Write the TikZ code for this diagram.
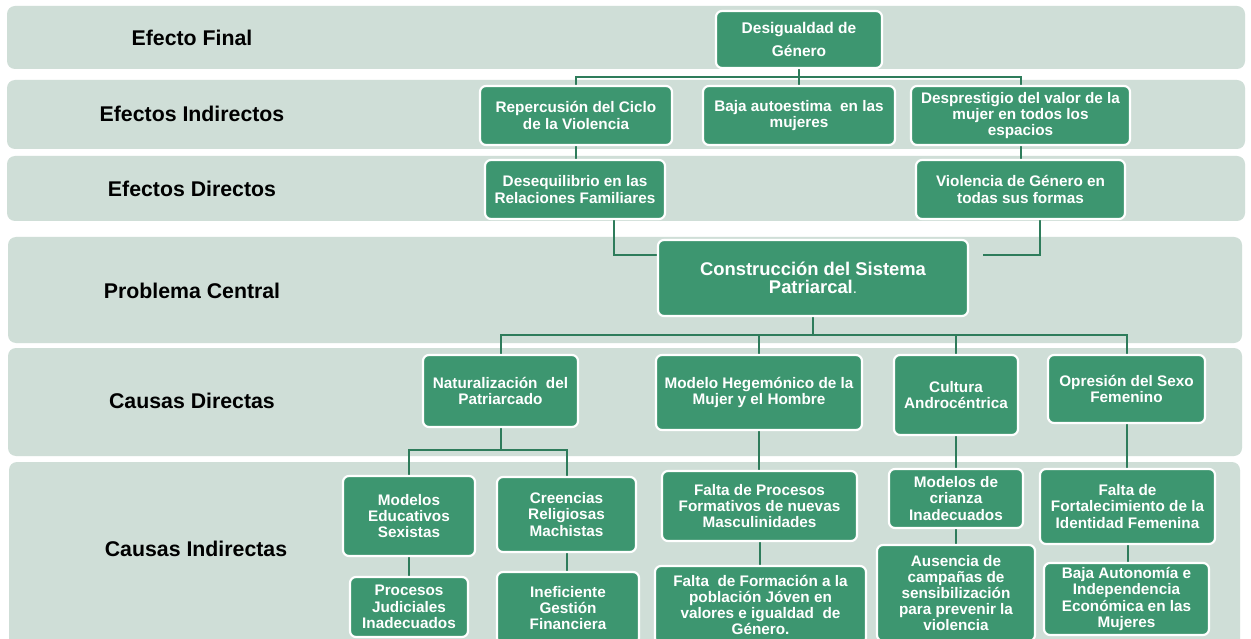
\documentclass[tikz,border=0pt]{standalone}
\usepackage{fontspec}
\setmainfont{Liberation Sans}
\usetikzlibrary{calc}
\definecolor{bandc}{HTML}{CFDED7}
\definecolor{boxc}{HTML}{3D9670}
\definecolor{linec}{HTML}{2E7C5B}
\pgfdeclarelayer{bands}
\pgfdeclarelayer{background}
\pgfsetlayers{bands,background,main}
\tikzset{
  band/.style={fill=bandc, draw=none, rounded corners=8pt},
  bandlabel/.style={font=\fontsize{21.3}{24}\selectfont\bfseries, text=black, anchor=center},
  gbox/.style={fill=boxc, draw=white, line width=2.2pt, rounded corners=6pt, text=white,
    align=center, font=\fontsize{15.3}{16.2}\selectfont\bfseries, inner sep=2pt},
  conn/.style={draw=linec, line width=2pt}
}
\begin{document}
\begin{tikzpicture}[x=1pt,y=-1pt]
\useasboundingbox (0,0) rectangle (1251,639);
\clip (0,0) rectangle (1251,639);
% bands
\begin{pgfonlayer}{bands}
\fill[white] (0,0) rectangle (1251,639);
\path[band] (7,6) rectangle (1245,69);
\path[band] (7,80) rectangle (1245,149);
\path[band] (7,156) rectangle (1245,221);
\path[band] (8,237) rectangle (1242,343);
\path[band] (8,348) rectangle (1242,456);
\path[band] (9,462) rectangle (1240,660);
\end{pgfonlayer}
\node[bandlabel] (l1) at (192,38) {Efecto Final};
\node[bandlabel] (l2) at (192,114) {Efectos Indirectos};
\node[bandlabel] (l3) at (192,189) {Efectos Directos};
\node[bandlabel] (l4) at (192,291) {Problema Central};
\node[bandlabel] (l5) at (192,401) {Causas Directas};
\node[bandlabel] (l6) at (196,549) {Causas Indirectas};
% nodes
\node[gbox, minimum width=166pt, minimum height=57pt, font=\fontsize{15.5}{23}\selectfont\bfseries] (des) at (799,39.5) {Desigualdad de\\Género};
\node[gbox, minimum width=192pt, minimum height=59pt] (rep) at (576,115.5) {Repercusión del Ciclo\\de la Violencia};
\node[gbox, minimum width=192pt, minimum height=59pt] (baja) at (799,115.5) {Baja autoestima\ \ en las\\mujeres};
\node[gbox, minimum width=219pt, minimum height=59pt] (despr) at (1020.5,115.5) {Desprestigio del valor de la\\mujer en todos los\\espacios};
\node[gbox, minimum width=180pt, minimum height=59pt] (deseq) at (575,189.5) {Desequilibrio en las\\Relaciones Familiares};
\node[gbox, minimum width=209pt, minimum height=59pt] (viol) at (1020.5,189.5) {Violencia de Género en\\todas sus formas};
\node[gbox, minimum width=310pt, minimum height=76pt, font=\fontsize{18.4}{18.5}\selectfont\bfseries] (cons) at (813,278) {Construcción del Sistema\\Patriarcal{\normalfont\fontsize{15}{15}\selectfont .}};
\node[gbox, minimum width=155pt, minimum height=72pt] (nat) at (500.5,391) {Naturalización\ \ del\\Patriarcado};
\node[gbox, minimum width=206pt, minimum height=75pt] (mod) at (759,392.5) {Modelo Hegemónico de la\\Mujer y el Hombre};
\node[gbox, minimum width=124pt, minimum height=80pt] (cult) at (956,395) {Cultura\\Androcéntrica};
\node[gbox, minimum width=157pt, minimum height=68pt] (opr) at (1126.5,389) {Opresión del Sexo\\Femenino};
\node[gbox, minimum width=132pt, minimum height=80pt] (medu) at (409,516) {Modelos\\Educativos\\Sexistas};
\node[gbox, minimum width=139pt, minimum height=75pt] (cree) at (566.5,514.5) {Creencias\\Religiosas\\Machistas};
\node[gbox, minimum width=118pt, minimum height=60pt] (proc) at (409,607) {Procesos\\Judiciales\\Inadecuados};
\node[gbox, minimum width=142pt, minimum height=72pt] (inef) at (568,608) {Ineficiente\\Gestión\\Financiera};
\node[gbox, minimum width=195pt, minimum height=70pt] (fproc) at (759.5,506) {Falta de Procesos\\Formativos de nuevas\\Masculinidades};
\node[gbox, minimum width=211pt, minimum height=78pt] (fform) at (760.5,605) {Falta\ \ de Formación a la\\población Jóven en\\valores e igualdad\ \ de\\Género.};
\node[gbox, minimum width=134pt, minimum height=59pt] (mcri) at (956,498.5) {Modelos de\\crianza\\Inadecuados};
\node[gbox, minimum width=158pt, minimum height=96pt] (aus) at (956,593) {Ausencia de\\campañas de\\sensibilización\\para prevenir la\\violencia};
\node[gbox, minimum width=175pt, minimum height=75pt] (ffort) at (1127.5,506.5) {Falta de\\Fortalecimiento de la\\Identidad Femenina};
\node[gbox, minimum width=165pt, minimum height=72pt] (bajaA) at (1126.5,599) {Baja Autonomía e\\Independencia\\Económica en las\\Mujeres};
% connectors
\begin{pgfonlayer}{background}
\coordinate (j1) at (799,77);
\draw[conn] (des.south) -- (j1);
\draw[conn] (rep.north) |- (j1) -| (despr.north);
\draw[conn] (j1) -- (baja.north);
\draw[conn] (rep.south) -- (rep.south |- deseq.north);
\draw[conn] (despr.south) -- (despr.south |- viol.north);
\draw[conn] ([xshift=39pt]deseq.south) |- ([yshift=23pt]cons.west);
\coordinate (vend) at (983,255);
\draw[conn] ([xshift=19.5pt]viol.south) |- (vend);
\coordinate (j2) at (813,335);
\draw[conn] (cons.south) -- (j2);
\draw[conn] (nat.north) |- (j2) -| (opr.north);
\draw[conn] (mod.north) -- (mod.north |- j2);
\draw[conn] (cult.north) -- (cult.north |- j2);
\coordinate (j3) at (500.5,450);
\draw[conn] (nat.south) -- (j3);
\draw[conn] (medu.north) |- (j3) -| (cree.north);
\draw[conn] (medu.south) -- (proc.north);
\draw[conn] (cree.south) -- (cree.south |- inef.north);
\draw[conn] (mod.south) -- (mod.south |- fproc.north);
\draw[conn] (fproc.south) -- (fproc.south |- fform.north);
\draw[conn] (cult.south) -- (mcri.north);
\draw[conn] (mcri.south) -- (aus.north);
\draw[conn] (opr.south) -- (opr.south |- ffort.north);
\draw[conn] (ffort.south) -- (ffort.south |- bajaA.north);
\end{pgfonlayer}
\end{tikzpicture}
\end{document}
